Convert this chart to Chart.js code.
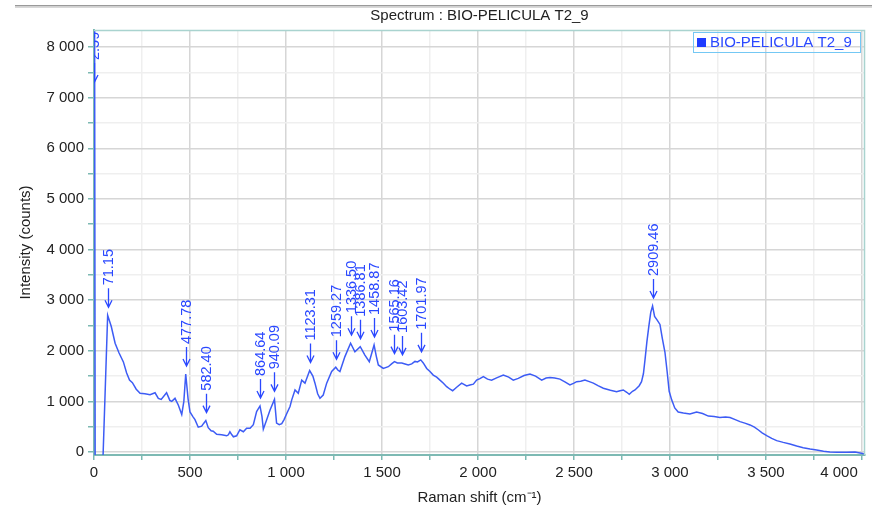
<!DOCTYPE html>
<html>
<head>
<meta charset="utf-8">
<script src="https://cdn.jsdelivr.net/npm/chart.js@4.4.1/dist/chart.umd.min.js"></script>
<style>
    html, body { margin: 0; padding: 0; background: #fff; }
    #wrap { width: 872px; height: 507px; position: relative; }
</style>
</head>
<body>
<div id="wrap"><canvas id="spectrumChart" width="872" height="507"></canvas></div>
<script>
// Raman shift (cm-1)
const shiftValues = [
    2.59, 6, 47, 71.15, 90, 110, 130, 153, 170, 185, 200, 220, 240, 265, 292, 318, 335, 350, 378, 395,
    405, 422, 439, 457, 468, 477.78, 490, 500, 515, 526, 543, 561, 570, 582.40, 595, 610, 621, 639, 665, 691,
    700, 708, 718, 726, 743, 760, 778, 795, 813, 830, 847, 864.64, 875, 882, 899, 917, 940.09, 951, 965, 978,
    990, 1003, 1021, 1030, 1047, 1064, 1082, 1099, 1123.31, 1140, 1151, 1165, 1177, 1194, 1212, 1238, 1259.27, 1270, 1281, 1307,
    1336.50, 1359, 1386.81, 1411, 1434, 1458.87, 1470, 1481, 1507, 1533, 1550, 1565.16, 1580, 1603.42, 1620, 1637, 1655, 1672, 1685, 1701.97,
    1715, 1733, 1750, 1767, 1785, 1802, 1820, 1837, 1855, 1868, 1889, 1915, 1941, 1958, 1976, 1993, 2010, 2028, 2050, 2071,
    2100, 2132, 2160, 2184, 2210, 2240, 2271, 2300, 2332, 2355, 2375, 2400, 2427, 2455, 2479, 2500, 2514, 2535, 2557, 2580,
    2601, 2625, 2653, 2690, 2722, 2740, 2757, 2775, 2788, 2805, 2818, 2840, 2852, 2862, 2870, 2880, 2890, 2900, 2909.46, 2920,
    2931, 2948, 2960, 2974, 2985, 2996, 3009, 3025, 3043, 3070, 3104, 3139, 3170, 3200, 3230, 3260, 3290, 3313, 3340, 3365,
    3390, 3417, 3440, 3461, 3480, 3504, 3530, 3556, 3590, 3625, 3660, 3694, 3730, 3764, 3800, 3833, 3870, 3920, 3964, 3990,
    4016
];
// Intensity (counts)
const intensityValues = [
    10000, -100, -100, 2700, 2480, 2150, 1960, 1780, 1560, 1420, 1370, 1240, 1160, 1150, 1130, 1170, 1060, 1040, 1170, 1020,
    1000, 1060, 930, 740, 1000, 1540, 1050, 790, 700, 640, 490, 510, 560, 620, 480, 420, 410, 350, 340, 320,
    340, 400, 340, 300, 320, 440, 400, 470, 470, 540, 800, 910, 700, 450, 630, 830, 1040, 570, 540, 560,
    640, 750, 900, 1030, 1225, 1160, 1420, 1360, 1610, 1500, 1360, 1150, 1060, 1125, 1360, 1590, 1675, 1620, 1590, 1885,
    2150, 1980, 2080, 1915, 1785, 2115, 1900, 1720, 1650, 1685, 1740, 1785, 1760, 1760, 1740, 1720, 1740, 1790, 1780, 1820,
    1760, 1650, 1590, 1520, 1480, 1420, 1360, 1290, 1240, 1210, 1280, 1360, 1305, 1325, 1340, 1420, 1450, 1490, 1440, 1420,
    1470, 1520, 1480, 1420, 1455, 1510, 1540, 1500, 1420, 1460, 1470, 1460, 1440, 1380, 1325, 1360, 1390, 1400, 1420, 1390,
    1360, 1310, 1260, 1220, 1190, 1210, 1225, 1180, 1140, 1200, 1225, 1310, 1390, 1550, 1820, 2180, 2480, 2760, 2885, 2680,
    2620, 2520, 2250, 1970, 1600, 1200, 1030, 870, 790, 770, 750, 790, 760, 710, 700, 680, 690, 680, 640, 600,
    570, 535, 490, 435, 380, 325, 270, 225, 190, 160, 120, 85, 60, 40, 15, 0, -5, -5, 0, -20,
    -40
];
// labelled peaks
const peakShifts = [2.59, 71.15, 477.78, 582.40, 864.64, 940.09, 1123.31, 1259.27, 1336.50, 1386.81, 1458.87, 1565.16, 1603.42, 1701.97, 2909.46];
const peakLabels = ['2.59', '71.15', '477.78', '582.40', '864.64', '940.09', '1123.31', '1259.27', '1336.50', '1386.81', '1458.87', '1565.16', '1603.42', '1701.97', '2909.46'];

const xTickValues = [0, 250, 500, 750, 1000, 1250, 1500, 1750, 2000, 2250, 2500, 2750, 3000, 3250, 3500, 3750, 4000];
const yTickValues = [0, 500, 1000, 1500, 2000, 2500, 3000, 3500, 4000, 4500, 5000, 5500, 6000, 6500, 7000, 7500, 8000];

const seriesName = 'BIO-PELICULA T2_9';
const chartTitle = 'Spectrum : BIO-PELICULA T2_9';
const xTitle = 'Raman shift (cm\u207B\u00B9)';
const yTitle = 'Intensity (counts)';

const FONT = 'Liberation Sans, Arial, sans-serif';
const lineBlue = '#3d5cf5';
const textBlue = '#2a48ff';
const axisTeal = '#7db9b3';

function fmtNum(v) {
    if (v >= 1000) {
        return Math.floor(v / 1000) + ' ' + String(v % 1000).padStart(3, '0');
    }
    return String(v);
}

function valueAt(x) {
    for (let i = 0; i < shiftValues.length; i++) {
        if (shiftValues[i] === x) return intensityValues[i];
        if (shiftValues[i] > x && i > 0) {
            const t = (x - shiftValues[i - 1]) / (shiftValues[i] - shiftValues[i - 1]);
            return intensityValues[i - 1] + t * (intensityValues[i] - intensityValues[i - 1]);
        }
    }
    return intensityValues[intensityValues.length - 1];
}

const points = shiftValues.map((x, i) => ({ x: x, y: intensityValues[i] }));

// title, frame, legend and peak markers
const decorPlugin = {
    id: 'decor',
    beforeDraw(chart) {
        const ctx = chart.ctx;
        const a = chart.chartArea;
        ctx.save();
        ctx.fillStyle = '#9a9a9a';
        ctx.fillRect(15, 5, 857, 1.5);
        ctx.fillStyle = '#d8d8d8';
        ctx.fillRect(15, 6.5, 857, 1.5);
        ctx.fillStyle = '#222';
        ctx.font = '15px ' + FONT;
        ctx.textAlign = 'center';
        ctx.textBaseline = 'middle';
        ctx.fillText(chartTitle, (a.left + a.right) / 2, 16);
        ctx.restore();
    },
    afterDatasetsDraw(chart) {
        const ctx = chart.ctx;
        const a = chart.chartArea;
        const xs = chart.scales.x;
        const ys = chart.scales.y;

        ctx.save();
        ctx.strokeStyle = '#a9d3cf';
        ctx.lineWidth = 1.5;
        ctx.beginPath();
        ctx.moveTo(a.left, a.top + 0.5);
        ctx.lineTo(a.right - 0.5, a.top + 0.5);
        ctx.lineTo(a.right - 0.5, a.bottom);
        ctx.stroke();

        // peak labels: arrow + rotated value
        ctx.beginPath();
        ctx.rect(a.left, a.top, a.right - a.left, a.bottom - a.top);
        ctx.clip();
        ctx.fillStyle = textBlue;
        ctx.strokeStyle = textBlue;
        ctx.lineWidth = 1.3;
        ctx.font = '14.5px ' + FONT;
        ctx.textAlign = 'left';
        ctx.textBaseline = 'middle';
        peakShifts.forEach((p, i) => {
            const px = Math.round(xs.getPixelForValue(p)) + 0.5;
            let tip = ys.getPixelForValue(valueAt(p)) - 8;
            if (tip < a.top + 52) tip = a.top + 52;
            ctx.beginPath();
            ctx.moveTo(px, tip);
            ctx.lineTo(px, tip - 19);
            ctx.moveTo(px - 3.5, tip - 7);
            ctx.lineTo(px, tip);
            ctx.lineTo(px + 3.5, tip - 7);
            ctx.stroke();
            ctx.save();
            ctx.translate(px + 0.5, tip - 22);
            ctx.rotate(-Math.PI / 2);
            ctx.fillText(peakLabels[i], 0, 0);
            ctx.restore();
        });
        ctx.restore();

        // legend box
        ctx.save();
        ctx.strokeStyle = '#74c8f4';
        ctx.lineWidth = 1;
        ctx.strokeRect(693.5, 32.5, 167, 20);
        ctx.fillStyle = '#1f3cff';
        ctx.fillRect(697, 38, 9, 9);
        ctx.fillStyle = textBlue;
        ctx.font = '15px ' + FONT;
        ctx.textAlign = 'left';
        ctx.textBaseline = 'middle';
        ctx.fillText(seriesName, 710, 43);
        ctx.restore();
    }
};

const ctxSpec = document.getElementById('spectrumChart').getContext('2d');
new Chart(ctxSpec, {
    type: 'line',
    data: {
        datasets: [{
            label: seriesName,
            data: points,
            borderColor: lineBlue,
            borderWidth: 1.5,
            pointRadius: 0,
            tension: 0,
            fill: false
        }]
    },
    options: {
        responsive: false,
        animation: false,
        devicePixelRatio: 1,
        layout: { padding: { top: 30, right: 7, left: 17, bottom: 0 } },
        plugins: {
            legend: { display: false },
            title: { display: false },
            tooltip: { enabled: false }
        },
        scales: {
            x: {
                type: 'linear',
                min: 0,
                max: 4016,
                afterBuildTicks: (scale) => { scale.ticks = xTickValues.map(v => ({ value: v })); },
                afterFit: (scale) => {
                    scale.height = 52;
                    scale.paddingLeft = 0;
                    scale.paddingRight = 0;
                },
                ticks: {
                    autoSkip: false,
                    maxRotation: 0,
                    color: '#222',
                    padding: 4,
                    font: { family: FONT, size: 15 },
                    // last label sits left of its tick, as in the original
                    callback: (v) => (v % 500 === 0 ? (v === 4000 ? fmtNum(v) + '           ' : fmtNum(v)) : '')
                },
                grid: {
                    color: (c) => (c.tick && c.tick.value % 500 === 0 ? '#d6d6d6' : '#efefef'),
                    lineWidth: 1.5,
                    tickColor: axisTeal,
                    tickLength: 5
                },
                border: { color: axisTeal, width: 2 },
                title: {
                    display: true,
                    text: xTitle,
                    color: '#222',
                    font: { family: FONT, size: 15 },
                    padding: { top: 2, bottom: 0 }
                }
            },
            y: {
                type: 'linear',
                min: -59,
                max: 8336,
                afterBuildTicks: (scale) => { scale.ticks = yTickValues.map(v => ({ value: v })); },
                afterFit: (scale) => {
                    scale.width = 77;
                    scale.paddingTop = 0;
                    scale.paddingBottom = 0;
                },
                ticks: {
                    autoSkip: false,
                    color: '#222',
                    padding: 4,
                    font: { family: FONT, size: 15 },
                    callback: (v) => (v % 1000 === 0 ? fmtNum(v) : '')
                },
                grid: {
                    color: (c) => (c.tick && c.tick.value % 1000 === 0 ? '#d6d6d6' : '#efefef'),
                    lineWidth: 1.5,
                    tickColor: axisTeal,
                    tickLength: 6
                },
                border: { color: axisTeal, width: 2 },
                title: {
                    display: true,
                    text: yTitle,
                    color: '#222',
                    font: { family: FONT, size: 15 },
                    padding: { top: 0, bottom: 4 }
                }
            }
        }
    },
    plugins: [decorPlugin]
});
</script>
</body>
</html>
